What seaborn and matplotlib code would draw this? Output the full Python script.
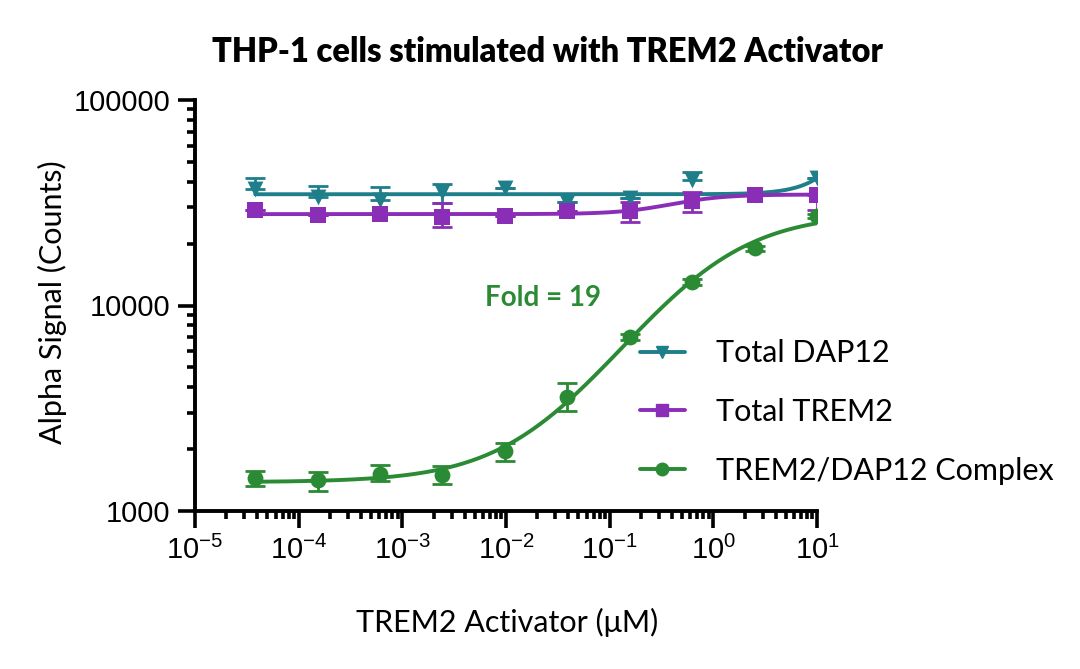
import numpy as np
import pandas as pd
from matplotlib import pyplot as plt
from matplotlib.lines import Line2D
from matplotlib import ticker
import seaborn as sns

# 4-fold serial dilution of the activator (uM)
conc = [3.81e-5, 1.53e-4, 6.1e-4, 2.44e-3, 9.77e-3, 0.0391, 0.156, 0.625, 2.5, 10.0]

dap12_mean = [36900, 33700, 32600, 35700, 37300, 31900, 33400, 40800, 34500, 41700]
dap12_hi = [41700, 38200, 37700, 39000, 37300, 31900, 33400, 44800, 34500, 41700]
dap12_lo = [36900, 33700, 32600, 31400, 37300, 31900, 33400, 40800, 34500, 41700]

trem2_mean = [29100, 27600, 27900, 26900, 27300, 28800, 28800, 32400, 34500, 34500]
trem2_hi = [29100, 27600, 27900, 31400, 27300, 28800, 31900, 35700, 34500, 34500]
trem2_lo = [29100, 27600, 27900, 24200, 27300, 28800, 25500, 28500, 34500, 29100]

cplx_mean = [1447, 1410, 1510, 1500, 1960, 3590, 7030, 13000, 19000, 27300]
cplx_hi = [1570, 1550, 1670, 1660, 2140, 4200, 7300, 13400, 19500, 28000]
cplx_lo = [1320, 1250, 1400, 1350, 1750, 3070, 6800, 12600, 18500, 26600]

names = ['Total DAP12', 'Total TREM2', 'TREM2/DAP12 Complex']
colors = ['#1e7f8a', '#8a2eb8', '#2b8a34']
markers = ['v', 's', 'o']


def fit_4pl(x, y):
    # grid over log EC50 and Hill slope, bottom/top by relative-weighted least squares
    x = np.asarray(x, float)
    y = np.asarray(y, float)
    w = 1.0 / y
    best = None
    for logec in np.arange(-5, 3, 0.02):
        for h in np.arange(0.5, 2.0, 0.02):
            f = 1.0 / (1.0 + (10 ** logec / x) ** h)
            A = np.column_stack([1 - f, f])
            coef, *_ = np.linalg.lstsq(A * w[:, None], y * w, rcond=None)
            sse = np.sum(((A @ coef - y) * w) ** 2)
            if best is None or sse < best[0]:
                best = (sse, coef[0], coef[1], logec, h)
    return best[1:]


def curve(params, xs):
    b, t, logec, h = params
    return b + (t - b) / (1 + (10 ** logec / xs) ** h)


sns.set_style('white')
plt.rcParams['font.family'] = ['Liberation Sans', 'DejaVu Sans']
plt.rcParams['text.color'] = 'black'
plt.rcParams['xtick.color'] = 'black'
plt.rcParams['ytick.color'] = 'black'

fig = plt.figure(figsize=(10.8, 6.69), dpi=100)
ax = fig.add_axes([195 / 1080, 1 - 511 / 669, (817 - 195) / 1080, (511 - 100) / 669])

xs = np.logspace(np.log10(conc[0]), 1, 300)
series = [(dap12_mean, dap12_lo, dap12_hi), (trem2_mean, trem2_lo, trem2_hi), (cplx_mean, cplx_lo, cplx_hi)]
for (m, lo, hi), name, c, mk in zip(series, names, colors, markers):
    p = fit_4pl(conc, m)
    fit_df = pd.DataFrame({'x': xs, 'y': curve(p, xs)})
    sns.lineplot(data=fit_df, x='x', y='y', ax=ax, color=c, lw=2.8, zorder=3)
    m = np.array(m)
    ax.errorbar(conc, m, yerr=[m - np.array(lo), np.array(hi) - m], fmt='none',
                ecolor=c, elinewidth=2, capsize=7, capthick=2, zorder=4)
    pts = pd.DataFrame({'x': conc, 'y': m})
    sns.scatterplot(data=pts, x='x', y='y', ax=ax, color=c, marker=mk, s=130,
                    edgecolor=c, linewidth=0, zorder=5)

ax.set_xscale('log')
ax.set_yscale('log')
ax.set_xlim(1e-5, 10)
ax.set_ylim(1000, 100000)
ax.set_xlabel('')
ax.set_ylabel('')
ax.set_xticks([10.0 ** k for k in range(-5, 2)])
ax.xaxis.set_minor_locator(ticker.LogLocator(base=10, subs=np.arange(2, 10)))
ax.set_yticks([1000, 10000, 100000])
ax.yaxis.set_major_formatter(ticker.FuncFormatter(lambda v, pos: '%d' % v))
ax.yaxis.set_minor_locator(ticker.LogLocator(base=10, subs=np.arange(2, 10)))
ax.yaxis.set_minor_formatter(ticker.NullFormatter())
ax.tick_params(which='major', length=12, width=2.6, labelsize=21, color='black', pad=6)
ax.tick_params(which='minor', length=6, width=2.6, color='black')
ax.tick_params(axis='x', which='both', bottom=True, direction='out')
ax.tick_params(axis='y', which='both', left=True, direction='out')
for s in ['top', 'right']:
    ax.spines[s].set_visible(False)
for s in ['left', 'bottom']:
    ax.spines[s].set_linewidth(2.8)
    ax.spines[s].set_color('black')

lab_font = ['Lato', 'DejaVu Sans']
fig.text(547 / 1080, 1 - 52 / 669, 'THP-1 cells stimulated with TREM2 Activator',
         ha='center', va='center', fontsize=23.5, fontweight='heavy', family=lab_font)
fig.text(507 / 1080, 1 - 622 / 669, 'TREM2 Activator (μM)', ha='center', va='center',
         fontsize=22, family=lab_font)
fig.text(52 / 1080, 1 - 302 / 669, 'Alpha Signal (Counts)', ha='center', va='center',
         rotation=90, fontsize=22, family=lab_font)
fig.text(543 / 1080, 1 - 298 / 669, 'Fold = 19', ha='center', va='center',
         fontsize=20, fontweight='bold', color=colors[2], family=lab_font)

handles = [Line2D([], [], color=c, lw=2.8, marker=mk, markersize=9) for c, mk in zip(colors, markers)]
fig.legend(handles, names, loc='center left', bbox_to_anchor=(612 / 1080, 1 - 412 / 669),
           frameon=False, handlelength=1.5, labelspacing=1.0, handletextpad=1.0,
           prop={'family': lab_font, 'size': 22})

fig.savefig('out.png', dpi=100)
